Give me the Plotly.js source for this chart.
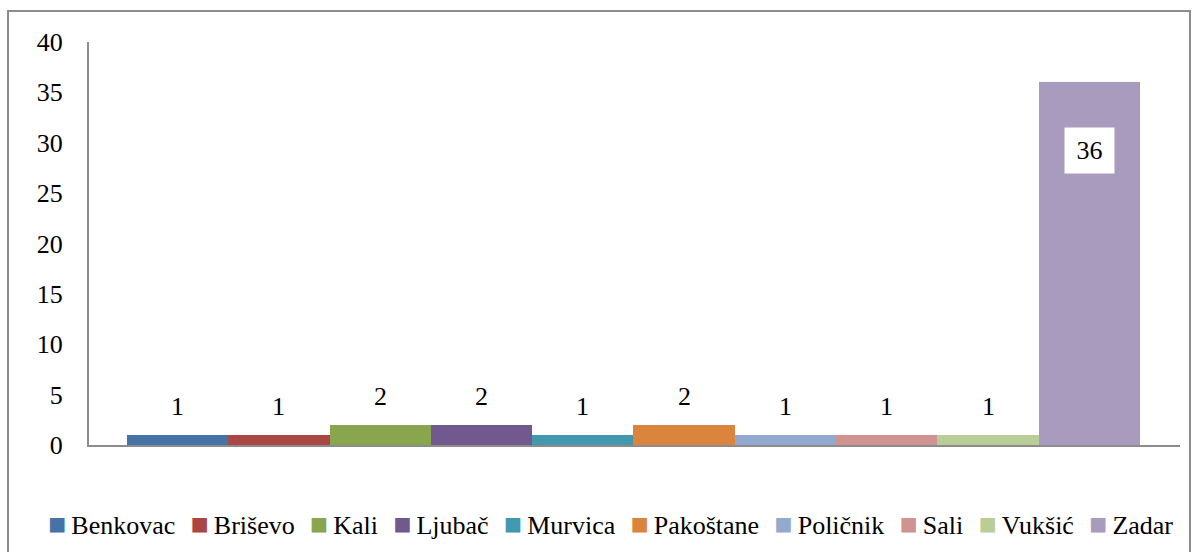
<!DOCTYPE html>
<html>
<head>
<meta charset="utf-8">
<script src="https://cdn.plot.ly/plotly-3.0.1.min.js"></script>
<style>html,body{margin:0;padding:0;background:#fff;}#chart{width:1196px;height:552px;}</style>
</head>
<body>
<div id="chart"></div>
<script>
// ---- data ----
var places = ["Benkovac", "Briševo", "Kali", "Ljubač", "Murvica", "Pakoštane", "Poličnik", "Sali", "Vukšić", "Zadar"];
var counts = [1, 1, 2, 2, 1, 2, 1, 1, 1, 36];
var colors = ["#4572A7", "#AA4643", "#89A54E", "#71588F", "#4198AF", "#DB843D", "#93A9CF", "#D19392", "#B9CD96", "#A99BBD"];
var yTicks = [0, 5, 10, 15, 20, 25, 30, 35, 40];

var FONT = "Liberation Serif";

var traces = places.map(function (name, i) {
  return {
    type: "bar",
    name: name,
    x: [i],
    y: [counts[i]],
    width: [1],
    marker: { color: colors[i], line: { width: 0 } },
    showlegend: false,
    hoverinfo: "name+y"
  };
});

var maxVal = Math.max.apply(null, counts);
var annotations = places.map(function (name, i) {
  var inside = counts[i] === maxVal && counts[i] > 10;
  if (inside) {
    return {
      x: i, y: counts[i], xref: "x", yref: "y",
      text: String(counts[i]), showarrow: false,
      yanchor: "top", yshift: -45,
      bgcolor: "#ffffff", borderpad: 2, width: 45, height: 41,
      font: { family: FONT, size: 26, color: "#000" }
    };
  }
  return {
    x: i, y: counts[i], xref: "x", yref: "y",
    text: String(counts[i]), showarrow: false,
    yanchor: "bottom", yshift: 12,
    font: { family: FONT, size: 26, color: "#000" }
  };
});

// custom legend line built from series names and colours
var legendText = places.map(function (name, i) {
  return "<span style='color:" + colors[i] + ";font-size:30px'>■</span>&#8201;" + name;
}).join("&nbsp;&nbsp;&#8202;");
annotations.push({
  xref: "paper", yref: "paper", x: 0.478, y: -0.196,
  xanchor: "center", yanchor: "middle", showarrow: false,
  text: legendText,
  font: { family: FONT, size: 26, color: "#000" }
});

var layout = {
  width: 1196, height: 552,
  margin: { l: 89, r: 16, t: 42, b: 107 },
  paper_bgcolor: "#ffffff", plot_bgcolor: "#ffffff",
  barmode: "overlay",
  bargap: 0,
  showlegend: false,
  xaxis: {
    range: [-0.875, 9.895],
    showticklabels: false, ticks: "", showgrid: false, zeroline: false,
    showline: true, linecolor: "#8c8c8c", linewidth: 2
  },
  yaxis: {
    range: [0, 40], tickvals: yTicks, ticktext: yTicks.map(String),
    ticks: "", showgrid: false, zeroline: false,
    showline: true, linecolor: "#8c8c8c", linewidth: 2,
    ticklabelstandoff: 19,
    tickfont: { family: FONT, size: 26, color: "#000" }
  },
  annotations: annotations,
  shapes: [{
    type: "rect", xref: "paper", yref: "paper",
    x0: (8 - 89) / 1091, x1: (1190 - 89) / 1091,
    y0: (445 - 554) / 403, y1: (445 - 11) / 403,
    line: { color: "#8c8c8c", width: 2 }, fillcolor: "rgba(0,0,0,0)"
  }],
  font: { family: FONT, size: 26, color: "#000" }
};

Plotly.newPlot("chart", traces, layout, { displayModeBar: false });
</script>
</body>
</html>
